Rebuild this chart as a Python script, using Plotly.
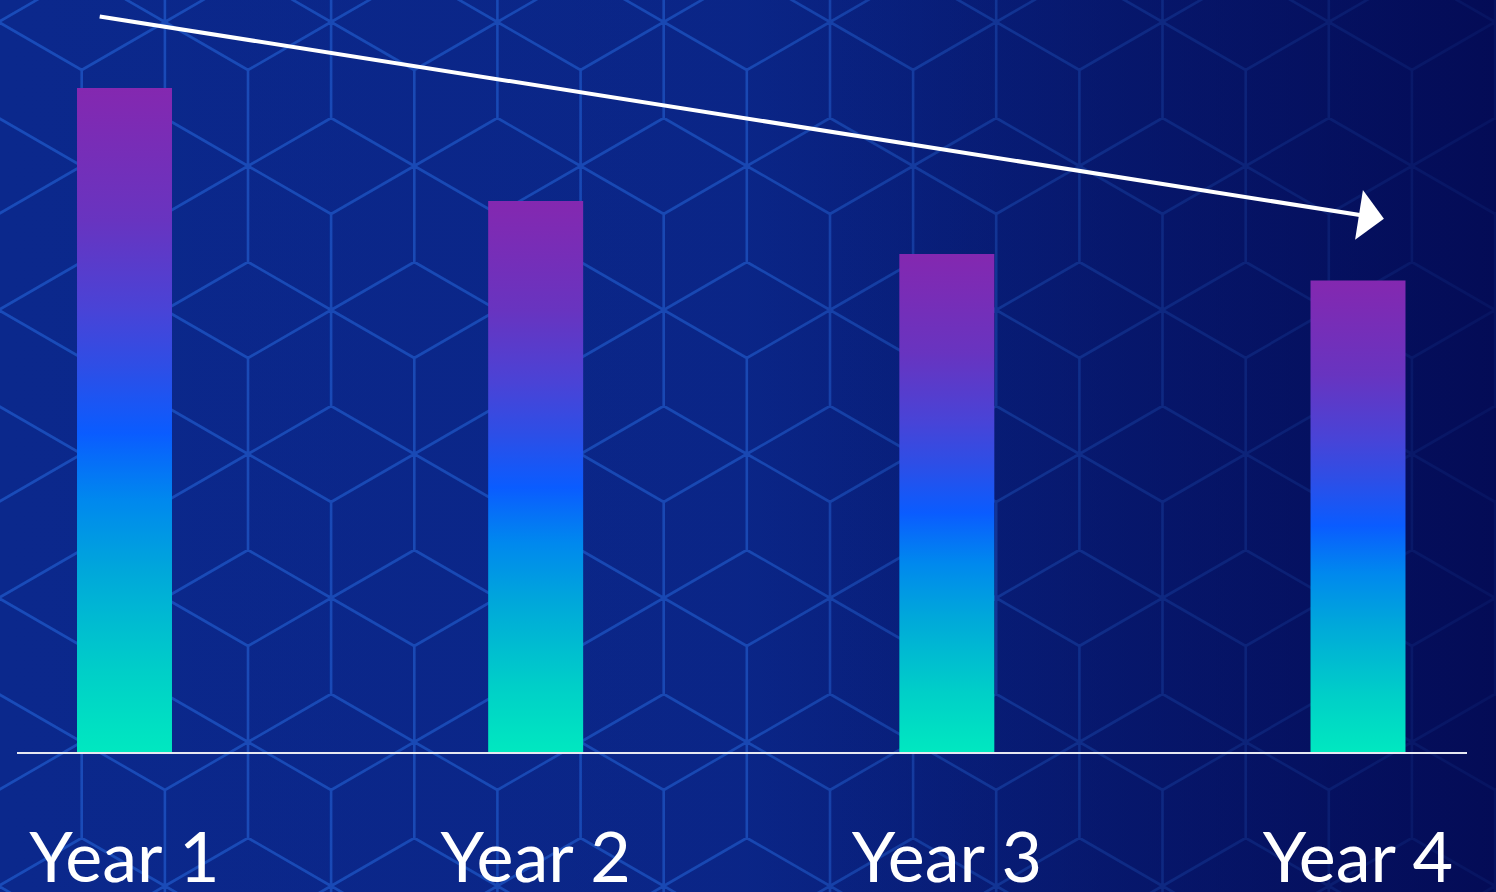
import base64
import math
import plotly.graph_objects as go

# ---------------- data ----------------
categories = ["Year 1", "Year 2", "Year 3", "Year 4"]
values = [100, 83, 75, 71]
x_pos = list(range(len(categories)))

# ---------------- styling ----------------
W, H = 1496, 892
ML, MR, MT, MB = 17, 29, 0, 140
BAR_HALF = 0.1155
GRADIENT = [
    [0.00, "#00E8C0"],
    [0.12, "#00CFC8"],
    [0.27, "#00A8DA"],
    [0.38, "#0088EE"],
    [0.48, "#0A5CFF"],
    [0.58, "#2E4EE6"],
    [0.67, "#4A43D6"],
    [0.80, "#6834C0"],
    [1.00, "#8428B0"],
]


def background_svg():
    L = 96.0
    dx = L * math.cos(math.radians(30))
    segs = []
    for j in range(-2, 9):
        cy = 70 + j * 1.5 * L
        off = dx if j % 2 else 0.0
        for i in range(-3, 12):
            cx = 248 + i * 2 * dx + off
            top = (cx, cy - L)
            ur = (cx + dx, cy - L / 2)
            lr = (cx + dx, cy + L / 2)
            bot = (cx, cy + L)
            ll = (cx - dx, cy + L / 2)
            ul = (cx - dx, cy - L / 2)
            pts = [top, ur, lr, bot, ll, ul, top]
            d = "M%.1f,%.1f" % pts[0] + "".join("L%.1f,%.1f" % p for p in pts[1:])
            segs.append(d)
            segs.append("M%.1f,%.1fL%.1f,%.1f" % (cx, cy, ul[0], ul[1]))
            segs.append("M%.1f,%.1fL%.1f,%.1f" % (cx, cy, ur[0], ur[1]))
            segs.append("M%.1f,%.1fL%.1f,%.1f" % (cx, cy, bot[0], bot[1]))
    path = "".join(segs)
    svg = f'''<svg xmlns="http://www.w3.org/2000/svg" width="{W}" height="{H}" viewBox="0 0 {W} {H}">
<defs>
<linearGradient id="bg" x1="0" y1="0" x2="1" y2="0">
<stop offset="0" stop-color="#0B288C"/>
<stop offset="1" stop-color="#0A2688"/>
</linearGradient>
<linearGradient id="ov" x1="0" y1="0" x2="1" y2="0">
<stop offset="0" stop-color="#020448" stop-opacity="0"/>
<stop offset="0.5" stop-color="#020448" stop-opacity="0.05"/>
<stop offset="0.75" stop-color="#020448" stop-opacity="0.45"/>
<stop offset="1" stop-color="#020448" stop-opacity="0.78"/>
</linearGradient>
<filter id="blur"><feGaussianBlur stdDeviation="0.6"/></filter>
</defs>
<rect x="0" y="0" width="{W}" height="{H}" fill="url(#bg)"/>
<path d="{path}" fill="none" stroke="#2A78F0" stroke-opacity="0.45" stroke-width="2.6" filter="url(#blur)"/>
<rect x="0" y="0" width="{W}" height="{H}" fill="url(#ov)"/>
</svg>'''
    return "data:image/svg+xml;base64," + base64.b64encode(svg.encode()).decode()


fig = go.Figure()

for xi, v, name in zip(x_pos, values, categories):
    fig.add_trace(
        go.Scatter(
            x=[xi - BAR_HALF, xi + BAR_HALF, xi + BAR_HALF, xi - BAR_HALF, xi - BAR_HALF],
            y=[0, 0, v, v, 0],
            mode="lines",
            line=dict(width=0, color="rgba(0,0,0,0)"),
            fill="toself",
            fillgradient=dict(type="vertical", colorscale=GRADIENT, start=0, stop=v),
            name=name,
            hoverinfo="skip",
            showlegend=False,
        )
    )

plot_w = W - ML - MR
plot_h = H - MT - MB
unit_px = (1358 - 124.5) / 3.0
x_range = [(ML - 124.5) / unit_px, 3 + (W - MR - 1358) / unit_px]
y_px_per_unit = 664 / values[0]
y_range = [0, plot_h / y_px_per_unit]

# trend arrow from above first bar to above last bar
fig.add_annotation(
    x=x_pos[-1] + 0.063,
    y=values[-1] + 9.3,
    ax=x_pos[0] - 0.064,
    ay=values[0] + 10.8,
    xref="x",
    yref="y",
    axref="x",
    ayref="y",
    text="",
    showarrow=True,
    arrowhead=1,
    arrowsize=2.1,
    arrowwidth=4,
    arrowcolor="#FFFFFF",
)

fig.add_layout_image(
    dict(
        source=background_svg(),
        xref="paper",
        yref="paper",
        x=-ML / plot_w,
        y=1 + MT / plot_h,
        sizex=W / plot_w,
        sizey=H / plot_h,
        xanchor="left",
        yanchor="top",
        sizing="stretch",
        layer="below",
    )
)

fig.update_layout(
    width=W,
    height=H,
    margin=dict(l=ML, r=MR, t=MT, b=MB),
    paper_bgcolor="#0A2688",
    plot_bgcolor="rgba(0,0,0,0)",
    showlegend=False,
    xaxis=dict(
        range=x_range,
        tickmode="array",
        tickvals=x_pos,
        ticktext=categories,
        tickfont=dict(family="Lato", size=70, color="#FFFFFF"),
        ticks="",
        showgrid=False,
        zeroline=False,
        showline=True,
        linecolor="#E6E8F2",
        linewidth=2,
        ticklabelstandoff=44,
        automargin=False,
        fixedrange=True,
    ),
    yaxis=dict(
        range=y_range,
        showgrid=False,
        zeroline=False,
        showticklabels=False,
        showline=False,
        automargin=False,
        fixedrange=True,
    ),
)

fig.write_html(
    "out.html",
    config={"displayModeBar": False},
    post_script="document.body.style.margin='0px';document.body.style.overflow='hidden';",
)
